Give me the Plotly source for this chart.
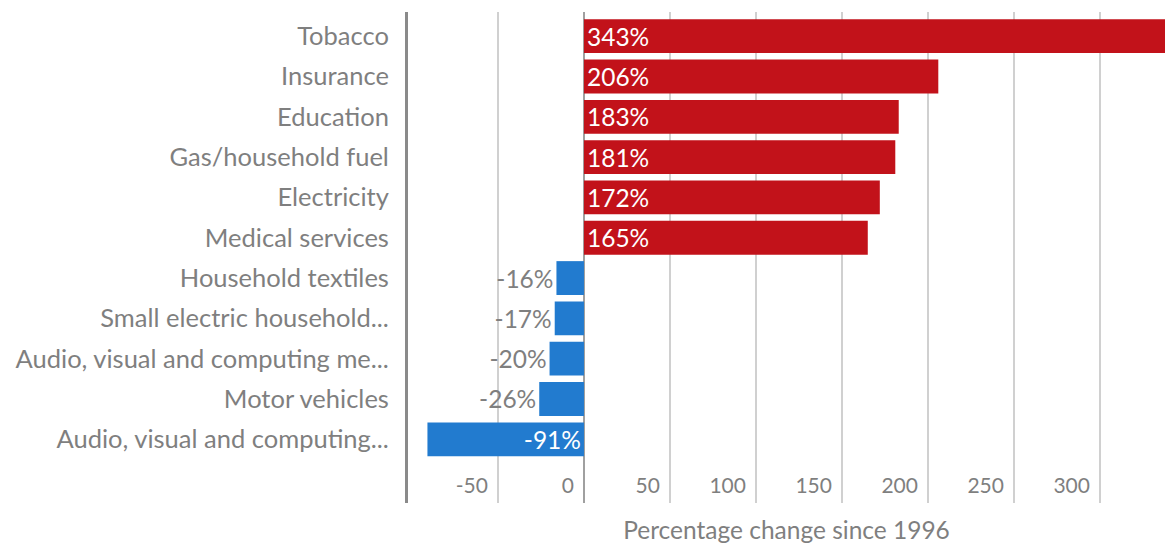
import plotly.graph_objects as go

categories = ["Tobacco", "Insurance", "Education", "Gas/household fuel", "Electricity",
              "Medical services", "Household textiles", "Small electric household...",
              "Audio, visual and computing me...", "Motor vehicles",
              "Audio, visual and computing..."]
values = [343, 206, 183, 181, 172, 165, -16, -17, -20, -26, -91]
tick_vals = [-50, 0, 50, 100, 150, 200, 250, 300]
tick_text = ["-50", "0", "50", "100", "150", "200", "250", "300"]

RED = "#C2121A"
BLUE = "#227BCF"
GRAY = "#7f7f7f"
FONT = "Lato"

colors = [RED if v > 0 else BLUE for v in values]
positions = ["outside" if -50 < v < 0 else "inside" for v in values]
texts = [f"{v}%" for v in values]

fig = go.Figure(go.Bar(
    y=categories, x=values, orientation="h",
    marker=dict(color=colors, line=dict(width=0)),
    text=texts, textposition=positions, insidetextanchor="start",
    insidetextfont=dict(color="white", size=24.5, family=FONT),
    outsidetextfont=dict(color=GRAY, size=24.5, family=FONT),
    cliponaxis=True, constraintext="none",
))

fig.update_layout(
    width=1165, height=545, autosize=False,
    margin=dict(l=408, r=0, t=12, b=42),
    plot_bgcolor="white", paper_bgcolor="white",
    bargap=0.16, showlegend=False,
    font=dict(family=FONT, color=GRAY, size=20),
    xaxis=dict(
        range=[-102.3, 337.8], tickvals=tick_vals, ticktext=tick_text,
        ticklabelposition="inside left", ticklabelshift=-10, automargin=False,
        showgrid=True, gridcolor="#d0d0d0", gridwidth=1.5,
        zeroline=True, zerolinecolor="#a0a0a0", zerolinewidth=1.5,
        tickfont=dict(size=21, color=GRAY, family=FONT),
        title=dict(text="Percentage change since 1996", standoff=26,
                   font=dict(size=24.5, color=GRAY, family=FONT)),
        showline=False, ticks="",
    ),
    yaxis=dict(
        categoryorder="array", categoryarray=categories,
        range=[11.58, -0.6], automargin=False,
        showline=True, linecolor="#8a8a8a", linewidth=3,
        showgrid=False, ticks="", ticklabelstandoff=11,
        tickfont=dict(size=25.5, color=GRAY, family=FONT),
    ),
)

post = ("document.body.style.margin='0';document.body.style.overflow='hidden';"
        "Plotly.relayout('{plot_id}', {width:1165, height:545});")
fig.write_html("out.html", post_script=post,
               config={"responsive": False, "displayModeBar": False})
